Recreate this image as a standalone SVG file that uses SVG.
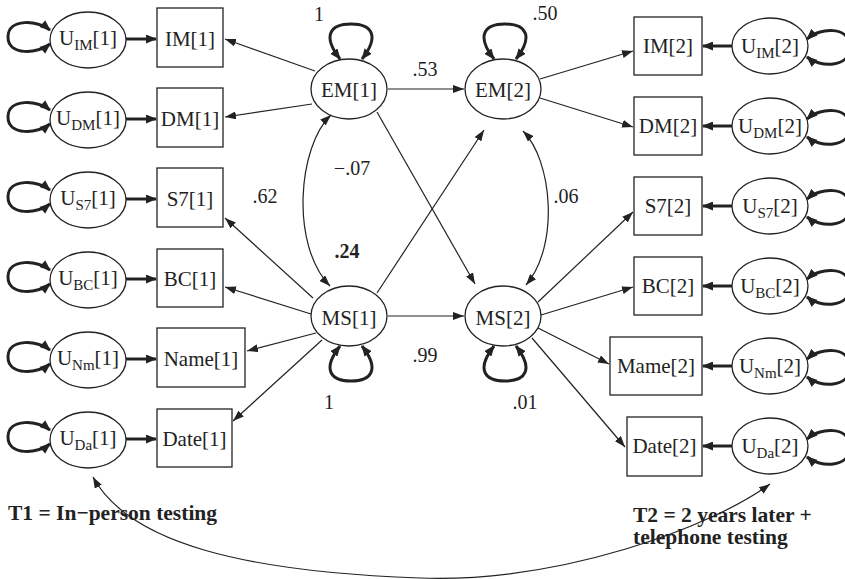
<svg xmlns="http://www.w3.org/2000/svg" width="845" height="579" viewBox="0 0 845 579">
  <style>
    .box { fill: #fff; stroke: #222; stroke-width: 1.3; }
    .ell { fill: #fff; stroke: #222; stroke-width: 1.3; }
    .lbl { font-family: "Liberation Serif", "Times New Roman", serif; font-size: 21px; fill: #222; text-anchor: middle; }
    .coef { font-family: "Liberation Serif", "Times New Roman", serif; font-size: 20px; fill: #222; }
    .note { font-family: "Liberation Serif", "Times New Roman", serif; font-size: 21.5px; font-weight: bold; fill: #222; }
    .thin { fill: none; stroke: #222; stroke-width: 1.2; marker-end: url(#arr); }
    .dbl { fill: none; stroke: #222; stroke-width: 1.2; marker-start: url(#arr); marker-end: url(#arr); }
    .thick { fill: none; stroke: #222; stroke-width: 3; marker-end: url(#arrB); }
    .loop { fill: none; stroke: #222; stroke-width: 3; marker-start: url(#arrB); marker-end: url(#arrB); }
  </style>
  <defs>
    <marker id="arr" markerUnits="userSpaceOnUse" markerWidth="11" markerHeight="8" refX="11" refY="4" orient="auto-start-reverse">
      <path d="M0,0 L11,4 L0,8 z" fill="#222"/>
    </marker>
    <marker id="arrB" markerUnits="userSpaceOnUse" markerWidth="11" markerHeight="9" refX="10" refY="4.5" orient="auto-start-reverse">
      <path d="M0,0 L11,4.5 L0,9 z" fill="#222"/>
    </marker>
  </defs>

  <!-- connectors -->
  <g id="connectors">
    <!-- residuals into T1 indicators -->
    <line class="thick" x1="126" y1="39" x2="156" y2="39"/>
    <line class="thick" x1="126" y1="119" x2="156" y2="119"/>
    <line class="thick" x1="126" y1="199" x2="156" y2="199"/>
    <line class="thick" x1="126" y1="279" x2="156" y2="279"/>
    <line class="thick" x1="126" y1="359" x2="156" y2="359"/>
    <line class="thick" x1="126" y1="439" x2="156" y2="439"/>
    <!-- residual variances, T1 -->
    <path class="loop" d="M50,30 C38,20 8,18 8,37 C8,56 38,54 50,44"/>
    <path class="loop" d="M50,110 C38,100 8,98 8,117 C8,136 38,134 50,124"/>
    <path class="loop" d="M50,190 C38,180 8,178 8,197 C8,216 38,214 50,204"/>
    <path class="loop" d="M50,270 C38,260 8,258 8,277 C8,296 38,294 50,284"/>
    <path class="loop" d="M50,350 C38,340 8,338 8,357 C8,376 38,374 50,364"/>
    <path class="loop" d="M50,430 C38,420 8,418 8,437 C8,456 38,454 50,444"/>
    <!-- residuals into T2 indicators -->
    <line class="thick" x1="732" y1="46" x2="703" y2="46"/>
    <line class="thick" x1="732" y1="126" x2="703" y2="126"/>
    <line class="thick" x1="732" y1="206" x2="703" y2="206"/>
    <line class="thick" x1="732" y1="286" x2="703" y2="286"/>
    <line class="thick" x1="732" y1="366" x2="703" y2="366"/>
    <line class="thick" x1="732" y1="446" x2="703" y2="446"/>
    <!-- residual variances, T2 -->
    <path class="loop" d="M807,39 C820,27 850,26 850,47 C850,68 820,68 807,57"/>
    <path class="loop" d="M807,119 C820,107 850,106 850,127 C850,148 820,148 807,137"/>
    <path class="loop" d="M807,199 C820,187 850,186 850,207 C850,228 820,228 807,217"/>
    <path class="loop" d="M807,279 C820,267 850,266 850,287 C850,308 820,308 807,297"/>
    <path class="loop" d="M807,359 C820,347 850,346 850,367 C850,388 820,388 807,377"/>
    <path class="loop" d="M807,439 C820,427 850,426 850,447 C850,468 820,468 807,457"/>
    <!-- factor variances -->
    <path class="loop" d="M340,59 C322,36 330,24 351,24 C372,24 380,36 362,59"/>
    <path class="loop" d="M494,59 C476,36 484,24 505,24 C526,24 534,36 516,59"/>
    <path class="loop" d="M340,346 C322,369 330,381 351,381 C372,381 380,369 362,346"/>
    <path class="loop" d="M494,346 C476,369 484,381 505,381 C526,381 534,369 516,346"/>
    <!-- loadings, T1 -->
    <line class="thin" x1="315" y1="71" x2="225" y2="39"/>
    <line class="thin" x1="312" y1="104" x2="225" y2="117"/>
    <line class="thin" x1="313" y1="298" x2="225" y2="218"/>
    <line class="thin" x1="311" y1="314" x2="225" y2="287"/>
    <line class="thin" x1="316" y1="333" x2="247" y2="351"/>
    <line class="thin" x1="322" y1="340" x2="233" y2="421"/>
    <!-- loadings, T2 -->
    <line class="thin" x1="540" y1="79" x2="633" y2="51"/>
    <line class="thin" x1="540" y1="98" x2="633" y2="127"/>
    <line class="thin" x1="538" y1="302" x2="633" y2="212"/>
    <line class="thin" x1="541" y1="315" x2="633" y2="287"/>
    <line class="thin" x1="538" y1="328" x2="609" y2="364"/>
    <line class="thin" x1="532" y1="338" x2="625" y2="447"/>
    <!-- structural paths -->
    <line class="thin" x1="388" y1="89" x2="464" y2="89"/>
    <line class="thin" x1="388" y1="316" x2="464" y2="316"/>
    <line class="thin" x1="377" y1="112" x2="475" y2="284"/>
    <line class="thin" x1="377" y1="293" x2="484" y2="130"/>
    <!-- covariances -->
    <path class="dbl" d="M331,115 C298,146 290,245 330,286"/>
    <path class="dbl" d="M523,131 C552,160 560,245 526,285"/>
    <path class="dbl" d="M93,477 C130,545 250,572 420,578 C560,583 712,527 770,484"/>
  </g>

  <!-- T1 residual ellipses -->
  <g id="u_im1"><ellipse class="ell" cx="88" cy="40" rx="38" ry="28"/><text class="lbl" x="88" y="45">U<tspan font-size="15" dy="5">IM</tspan><tspan dy="-5">[1]</tspan></text></g>
  <g id="u_dm1"><ellipse class="ell" cx="88" cy="120" rx="38" ry="28"/><text class="lbl" x="88" y="125">U<tspan font-size="15" dy="5">DM</tspan><tspan dy="-5">[1]</tspan></text></g>
  <g id="u_s71"><ellipse class="ell" cx="88" cy="200" rx="38" ry="28"/><text class="lbl" x="88" y="205">U<tspan font-size="15" dy="5">S7</tspan><tspan dy="-5">[1]</tspan></text></g>
  <g id="u_bc1"><ellipse class="ell" cx="88" cy="280" rx="38" ry="28"/><text class="lbl" x="88" y="285">U<tspan font-size="15" dy="5">BC</tspan><tspan dy="-5">[1]</tspan></text></g>
  <g id="u_nm1"><ellipse class="ell" cx="88" cy="360" rx="38" ry="28"/><text class="lbl" x="88" y="365">U<tspan font-size="15" dy="5">Nm</tspan><tspan dy="-5">[1]</tspan></text></g>
  <g id="u_da1"><ellipse class="ell" cx="88" cy="440" rx="38" ry="28"/><text class="lbl" x="88" y="445">U<tspan font-size="15" dy="5">Da</tspan><tspan dy="-5">[1]</tspan></text></g>

  <!-- T1 indicators -->
  <g id="im1"><rect class="box" x="157" y="8" width="66" height="59"/><text class="lbl" x="190" y="46">IM[1]</text></g>
  <g id="dm1"><rect class="box" x="157" y="88" width="66" height="59"/><text class="lbl" x="190" y="126">DM[1]</text></g>
  <g id="s71"><rect class="box" x="157" y="168" width="66" height="59"/><text class="lbl" x="190" y="206">S7[1]</text></g>
  <g id="bc1"><rect class="box" x="157" y="249" width="66" height="58"/><text class="lbl" x="190" y="286">BC[1]</text></g>
  <g id="name1"><rect class="box" x="157" y="328" width="88" height="59"/><text class="lbl" x="201" y="366">Name[1]</text></g>
  <g id="date1"><rect class="box" x="157" y="409" width="75" height="58"/><text class="lbl" x="194.5" y="446">Date[1]</text></g>

  <!-- latent factors -->
  <g id="em1"><ellipse class="ell" cx="349" cy="89" rx="38" ry="30"/><text class="lbl" x="349" y="97">EM[1]</text></g>
  <g id="em2"><ellipse class="ell" cx="503" cy="89" rx="38" ry="30"/><text class="lbl" x="503" y="97">EM[2]</text></g>
  <g id="ms1"><ellipse class="ell" cx="349" cy="316" rx="38" ry="30"/><text class="lbl" x="349" y="325">MS[1]</text></g>
  <g id="ms2"><ellipse class="ell" cx="503" cy="316" rx="38" ry="30"/><text class="lbl" x="503" y="325">MS[2]</text></g>

  <!-- T2 indicators -->
  <g id="im2"><rect class="box" x="634" y="17" width="68" height="58"/><text class="lbl" x="668" y="53">IM[2]</text></g>
  <g id="dm2"><rect class="box" x="634" y="97" width="68" height="58"/><text class="lbl" x="668" y="133">DM[2]</text></g>
  <g id="s72"><rect class="box" x="634" y="177" width="68" height="58"/><text class="lbl" x="668" y="213">S7[2]</text></g>
  <g id="bc2"><rect class="box" x="634" y="257" width="68" height="58"/><text class="lbl" x="668" y="293">BC[2]</text></g>
  <g id="mame2"><rect class="box" x="610" y="337" width="92" height="58"/><text class="lbl" x="656" y="373">Mame[2]</text></g>
  <g id="date2"><rect class="box" x="627" y="417" width="75" height="59"/><text class="lbl" x="664.5" y="453">Date[2]</text></g>

  <!-- T2 residual ellipses -->
  <g id="u_im2"><ellipse class="ell" cx="770" cy="46" rx="38" ry="28"/><text class="lbl" x="770" y="53">U<tspan font-size="15" dy="5">IM</tspan><tspan dy="-5">[2]</tspan></text></g>
  <g id="u_dm2"><ellipse class="ell" cx="770" cy="126" rx="38" ry="28"/><text class="lbl" x="770" y="133">U<tspan font-size="15" dy="5">DM</tspan><tspan dy="-5">[2]</tspan></text></g>
  <g id="u_s72"><ellipse class="ell" cx="770" cy="206" rx="38" ry="28"/><text class="lbl" x="770" y="213">U<tspan font-size="15" dy="5">S7</tspan><tspan dy="-5">[2]</tspan></text></g>
  <g id="u_bc2"><ellipse class="ell" cx="770" cy="286" rx="38" ry="28"/><text class="lbl" x="770" y="293">U<tspan font-size="15" dy="5">BC</tspan><tspan dy="-5">[2]</tspan></text></g>
  <g id="u_nm2"><ellipse class="ell" cx="770" cy="366" rx="38" ry="28"/><text class="lbl" x="770" y="373">U<tspan font-size="15" dy="5">Nm</tspan><tspan dy="-5">[2]</tspan></text></g>
  <g id="u_da2"><ellipse class="ell" cx="770" cy="446" rx="38" ry="28"/><text class="lbl" x="770" y="453">U<tspan font-size="15" dy="5">Da</tspan><tspan dy="-5">[2]</tspan></text></g>

  <!-- estimates -->
  <g id="estimates">
    <text class="coef" x="319" y="21" text-anchor="middle">1</text>
    <text class="coef" x="545" y="20" text-anchor="middle">.50</text>
    <text class="coef" x="425" y="76" text-anchor="middle">.53</text>
    <text class="coef" x="352" y="175" text-anchor="middle">−.07</text>
    <text class="coef" x="566" y="203" text-anchor="middle">.06</text>
    <text class="coef" x="265" y="203" text-anchor="middle">.62</text>
    <text class="coef" x="347" y="258" text-anchor="middle" font-weight="bold">.24</text>
    <text class="coef" x="425" y="362" text-anchor="middle">.99</text>
    <text class="coef" x="329" y="409" text-anchor="middle">1</text>
    <text class="coef" x="525" y="409" text-anchor="middle">.01</text>
  </g>

  <!-- occasion notes -->
  <text class="note" x="8" y="520">T1 = In−person testing</text>
  <text class="note" x="633" y="522">T2 = 2 years later +</text>
  <text class="note" x="633" y="544">telephone testing</text>
</svg>
